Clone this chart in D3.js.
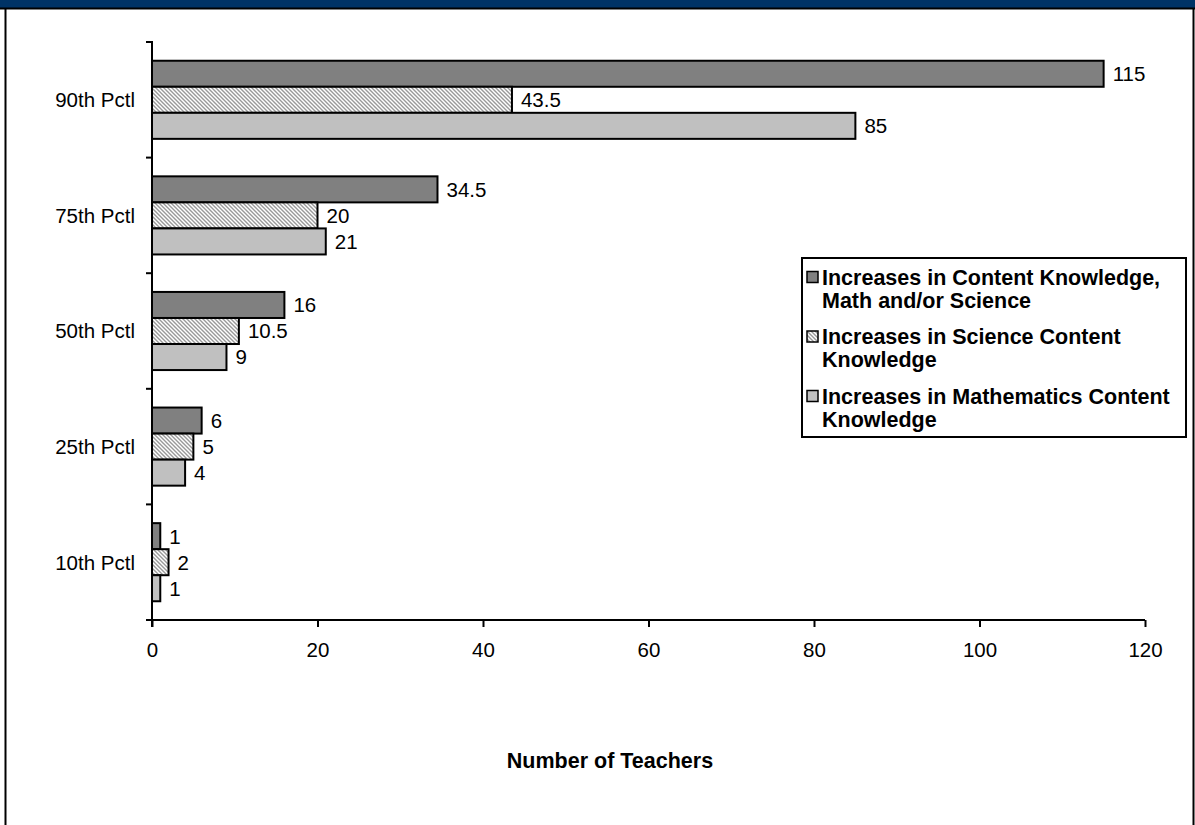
<!DOCTYPE html>
<html>
<head>
<meta charset="utf-8">
<script src="https://cdn.jsdelivr.net/npm/d3@7"></script>
<style>
  html, body { margin: 0; padding: 0; background: #fff; }
  svg { display: block; font-family: "Liberation Sans", Arial, sans-serif; }
</style>
</head>
<body>
<svg id="chart" width="1195" height="825"></svg>
<script>
// ---- data ----
const categories = ["90th Pctl", "75th Pctl", "50th Pctl", "25th Pctl", "10th Pctl"];
const seriesNames = [
  ["Increases in Content Knowledge,", "Math and/or Science"],
  ["Increases in Science Content", "Knowledge"],
  ["Increases in Mathematics Content", "Knowledge"]
];
const contentValues = [115, 34.5, 16, 6, 1];
const scienceValues = [43.5, 20, 10.5, 5, 2];
const mathValues = [85, 21, 9, 4, 1];
const xTicks = [0, 20, 40, 60, 80, 100, 120];
const xTitle = "Number of Teachers";

const seriesValues = [contentValues, scienceValues, mathValues];

const svg = d3.select("#chart");
const W = 1195, H = 825;
const FS = 20.5, FSB = 21.5;

// pattern
const defs = svg.append("defs");
const pat = defs.append("pattern")
  .attr("id", "hatch").attr("patternUnits", "userSpaceOnUse")
  .attr("width", 4).attr("height", 4);
pat.append("rect").attr("width", 4).attr("height", 4).attr("fill", "#fff");
pat.append("path").attr("d", "M-1,-1 L5,5 M-1,3 L1,5 M3,-1 L5,1")
  .attr("stroke", "#999").attr("stroke-width", 1.4);

const fills = ["#808080", "url(#hatch)", "#c0c0c0"];

// frame
svg.append("rect").attr("x", 0).attr("y", 0).attr("width", W).attr("height", 8).attr("fill", "#003366");
svg.append("line").attr("x1", 0).attr("x2", W).attr("y1", 8.5).attr("y2", 8.5).attr("stroke", "#000").attr("stroke-width", 2);
svg.append("line").attr("x1", 5.5).attr("x2", 5.5).attr("y1", 8).attr("y2", H).attr("stroke", "#000").attr("stroke-width", 2);
svg.append("line").attr("x1", 1193.5).attr("x2", 1193.5).attr("y1", 8).attr("y2", H).attr("stroke", "#000").attr("stroke-width", 2);

// scales
const x = d3.scaleLinear().domain([0, 120]).range([152, 1145]);
const y = d3.scaleBand().domain(categories).range([42, 620]).padding(0);
const yInner = d3.scaleBand().domain([0, 1, 2]).range([0, y.bandwidth()]).paddingInner(0).paddingOuter(0.72);

// bars
categories.forEach((c, ci) => {
  seriesValues.forEach((vals, si) => {
    const v = vals[ci];
    const by = y(c) + yInner(si);
    svg.append("rect")
      .attr("x", x(0)).attr("y", by)
      .attr("width", x(v) - x(0)).attr("height", yInner.bandwidth())
      .attr("fill", fills[si]).attr("stroke", "#000").attr("stroke-width", 2);
    svg.append("text")
      .attr("x", x(v) + 9).attr("y", by + yInner.bandwidth() / 2)
      .attr("dy", "0.36em").attr("font-size", FS).attr("fill", "#000")
      .text(v);
  });
});

// y axis
const yAxisG = svg.append("g").attr("transform", `translate(${x(0)},0)`);
yAxisG.append("line").attr("x1", 0).attr("x2", 0).attr("y1", 41).attr("y2", 627).attr("stroke", "#000").attr("stroke-width", 2);
const yTickPos = categories.map(c => y(c)).concat([620]);
yTickPos.forEach(p => {
  yAxisG.append("line").attr("x1", -6).attr("x2", 0).attr("y1", p).attr("y2", p).attr("stroke", "#000").attr("stroke-width", 2);
});
categories.forEach(c => {
  svg.append("text").attr("x", 135).attr("y", y(c) + y.bandwidth() / 2)
    .attr("dy", "0.36em").attr("text-anchor", "end").attr("font-size", FS).attr("fill", "#000").text(c);
});

// x axis
const xAxis = d3.axisBottom(x).tickValues(xTicks).tickSize(7).tickPadding(15).tickFormat(d3.format("d"));
const xg = svg.append("g").attr("transform", "translate(0,620)").call(xAxis);
xg.select(".domain").attr("stroke", "#000").attr("stroke-width", 2).attr("d", `M${x(0)},0H${x(120)}`);
xg.selectAll(".tick line").attr("stroke", "#000").attr("stroke-width", 2);
xg.selectAll(".tick text").attr("font-size", FS).attr("fill", "#000").attr("font-family", "Liberation Sans, Arial, sans-serif");

svg.append("text").attr("x", 610).attr("y", 760).attr("dy", "0.36em").attr("text-anchor", "middle")
  .attr("font-size", FSB).attr("font-weight", "bold").attr("fill", "#000").text(xTitle);

// legend
const lg = svg.append("g");
lg.append("rect").attr("x", 802).attr("y", 258).attr("width", 384).attr("height", 179)
  .attr("fill", "#fff").attr("stroke", "#000").attr("stroke-width", 2);
seriesNames.forEach((lines, i) => {
  const y0 = 277 + i * 59.5;
  lg.append("rect").attr("x", 807).attr("y", y0 - 5.5).attr("width", 11).attr("height", 11)
    .attr("fill", fills[i]).attr("stroke", "#000").attr("stroke-width", 1.5);
  lines.forEach((t, li) => {
    lg.append("text").attr("x", 822).attr("y", y0 + li * 23).attr("dy", "0.36em")
      .attr("font-size", FSB).attr("font-weight", "bold").attr("fill", "#000").text(t);
  });
});
</script>
</body>
</html>
